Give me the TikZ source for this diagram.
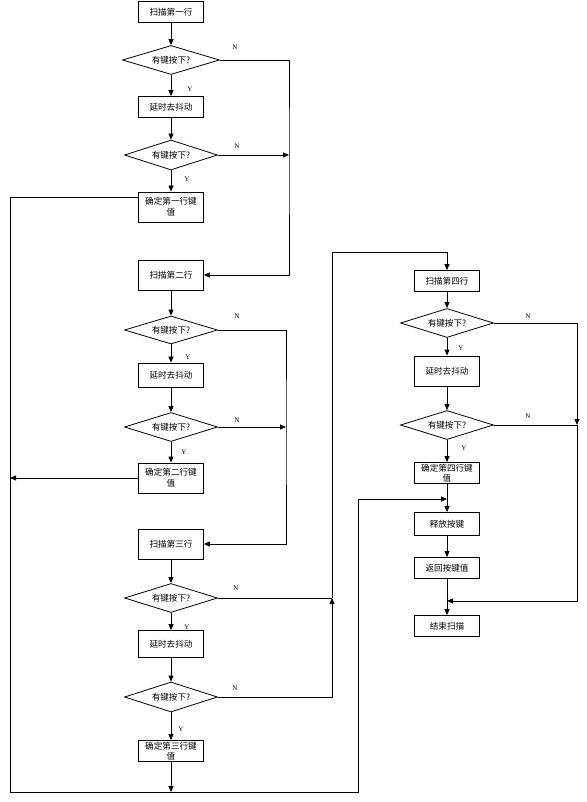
\documentclass[tikz,border=0pt]{standalone}
\usepackage{fontspec}
\setmainfont{Liberation Serif}
\newfontfamily\cjk{Noto Sans CJK SC}
\usetikzlibrary{shapes.geometric,arrows.meta}
\begin{document}
\begin{tikzpicture}[x=1pt,y=-1pt,
  line width=0.8pt,
  box/.style={draw,rectangle,minimum width=65pt,inner sep=0pt,font=\cjk\fontsize{8.6}{11}\selectfont,align=center},
  dia/.style={draw,diamond,aspect=3.2,inner sep=0pt,minimum width=93pt,minimum height=29pt,font=\cjk\fontsize{8.6}{11}\selectfont},
  arr/.style={-{Triangle[length=6pt,width=5pt]}},
  lab/.style={font=\fontsize{7}{8}\selectfont,inner sep=0pt}]
\useasboundingbox (0,0) rectangle (586,802);
% column 1
\node[box,minimum height=21pt] (b1) at (171,12) {扫描第一行};
\node[dia,minimum width=97pt] (d1) at (171,60) {有键按下?};
\node[box,minimum height=21pt] (b2) at (171,107) {延时去抖动};
\node[dia,minimum height=30pt] (d2) at (171,155) {有键按下?};
\node[box,minimum height=30pt] (b3) at (171,207) {确定第一行键\\值};
\node[box,minimum height=30pt] (b4) at (171,275) {扫描第二行};
\node[dia,minimum height=28pt] (d3) at (171,330) {有键按下?};
\node[box,minimum height=24pt] (b5) at (171,375) {延时去抖动};
\node[dia] (d4) at (171,427) {有键按下?};
\node[box,minimum height=30pt] (b6) at (171,478) {确定第二行键\\值};
\node[box,minimum height=30pt] (b7) at (171,544) {扫描第三行};
\node[dia] (d5) at (171,598) {有键按下?};
\node[box,minimum height=27pt] (b8) at (171,644) {延时去抖动};
\node[dia,minimum height=30pt] (d6) at (171,697) {有键按下?};
\node[box,minimum height=21pt,font=\cjk\fontsize{8.6}{9.5}\selectfont] (b9) at (171,751) {确定第三行键\\值};
% column 2
\node[box,minimum height=21pt] (b10) at (447,281) {扫描第四行};
\node[dia] (d7) at (447,323) {有键按下?};
\node[box,minimum height=30pt] (b11) at (447,371) {延时去抖动};
\node[dia] (d8) at (447,425) {有键按下?};
\node[box,minimum height=21pt,font=\cjk\fontsize{8.6}{9.5}\selectfont] (b12) at (447,473) {确定第四行键\\值};
\node[box,minimum height=23pt] (b13) at (447,524) {释放按键};
\node[box,minimum height=21pt] (b14) at (447,568) {返回按键值};
\node[box,minimum height=21pt] (b15) at (447,626) {结束扫描};
% junction coordinates
\coordinate (r1) at (289,155);
\coordinate (r2) at (286,427);
\coordinate (r3) at (332,598);
\coordinate (t4) at (447,252);
\coordinate (r4) at (577,425);
\coordinate (j2) at (447,601);
\coordinate (l1) at (10,197);
\coordinate (l2) at (10,792);
\coordinate (bm) at (358,792);
\coordinate (jn) at (447,499);
% vertical flow
\draw[arr] (b1) -- (d1);
\draw[arr] (d1) -- (b2);
\draw[arr] (b2) -- (d2);
\draw[arr] (d2) -- (b3);
\draw[arr] (b4) -- (d3);
\draw[arr] (d3) -- (b5);
\draw[arr] (b5) -- (d4);
\draw[arr] (d4) -- (b6);
\draw[arr] (b7) -- (d5);
\draw[arr] (d5) -- (b8);
\draw[arr] (b8) -- (d6);
\draw[arr] (d6) -- (b9);
\draw[arr] (b10) -- (d7);
\draw[arr] (d7) -- (b11);
\draw[arr] (b11) -- (d8);
\draw[arr] (d8) -- (b12);
\draw[arr] (b12) -- (b13);
\draw[arr] (b13) -- (b14);
\draw[arr] (b14) -- (b15);
% N branches
\draw[arr] (d1.east) -| (r1) |- (b4.east);
\draw[arr] (d2.east) -- (r1);
\draw[arr] (d3.east) -| (r2) |- (b7.east);
\draw[arr] (d4.east) -- (r2);
\draw (d5.east) -- (r3);
\draw[arr] (d6.east) -| (r3);
\draw[arr] (r3) |- (t4) -- (b10);
\draw[arr] (d7.east) -| (r4);
\draw (d8.east) -- (r4);
\draw[arr] (r4) |- (j2);
% key-found paths
\draw[arr] (l1 -| b3.west) -- (l1) -- (l2) -- (bm) -- (bm |- jn) -- (jn);
\draw[arr] (b6.west) -- (b6.west -| l1);
\draw[arr] (b9) -- (b9 |- l2);
% labels
\node[lab] (n1) at (235,47) {N};
\node[lab] (n2) at (237,146) {N};
\node[lab] (n3) at (237,316) {N};
\node[lab] (n4) at (237,420) {N};
\node[lab] (n5) at (236,588) {N};
\node[lab] (n6) at (235,688) {N};
\node[lab] (n7) at (528,316) {N};
\node[lab] (n8) at (528,416) {N};
\node[lab] (y1) at (190,89) {Y};
\node[lab] (y2) at (187,179) {Y};
\node[lab] (y3) at (188,357) {Y};
\node[lab] (y4) at (184,452) {Y};
\node[lab] (y5) at (187,627) {Y};
\node[lab] (y6) at (181,729) {Y};
\node[lab] (y7) at (461,348) {Y};
\node[lab] (y8) at (464,448) {Y};
\end{tikzpicture}
\end{document}
